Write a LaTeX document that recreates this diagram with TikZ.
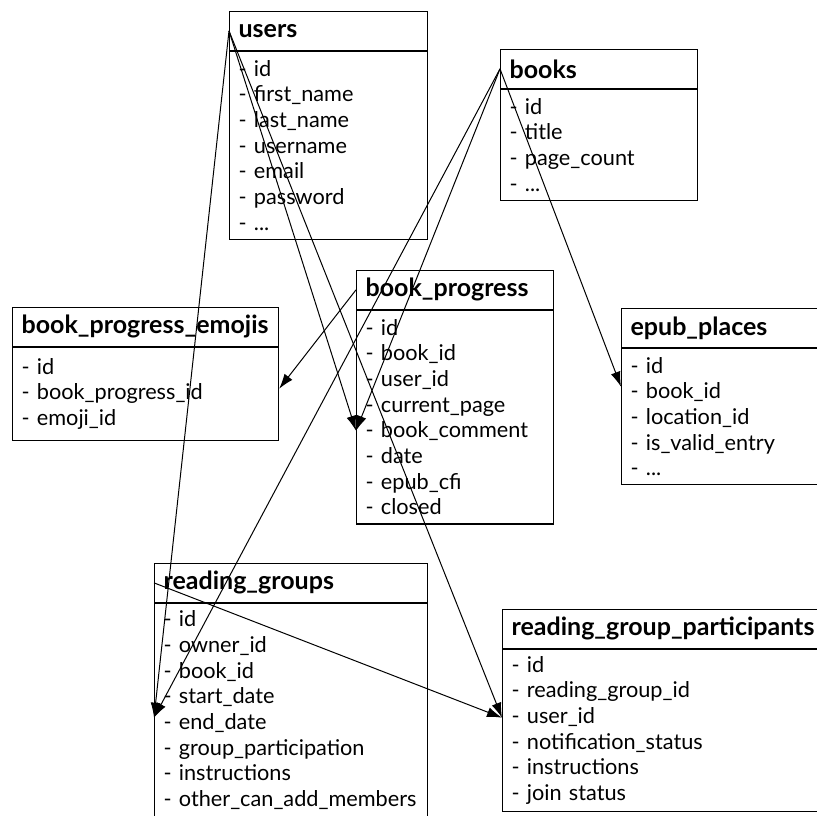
\documentclass[tikz,border=0pt]{standalone}
\usepackage{fontspec}
\setmainfont{Lato}
\usetikzlibrary{arrows.meta,calc}

\tikzset{
  tbltitle/.style={draw, line width=1.2pt, anchor=north west, inner xsep=9pt, inner ysep=0pt,
    minimum height=38.5pt, align=left, font=\bfseries\fontsize{25}{30}\selectfont},
  tblbody/.style={draw, line width=1.2pt, anchor=north west, inner xsep=9pt, inner ysep=0pt,
    minimum height=#1*25.7pt+8pt, align=left, font=\fontsize{21.7}{25.7}\selectfont},
  link/.style={-{Latex[length=15pt,width=10pt]}, line width=1pt},
}

\begin{document}
\begin{tikzpicture}[x=1pt, y=-1pt]
  \useasboundingbox (0,0) rectangle (817,815);
  \clip (0,0) rectangle (817,815);

  % users
  \node[tbltitle, text width=180pt] (users) at (229,11) {users};
  \node[tblbody=7, text width=180pt] (usersbody) at (users.south west)
    {- id\\- first\_name\\- last\_name\\- username\\- email\\- password\\- ...};

  % books
  \node[tbltitle, text width=179pt] (books) at (500,49) {books};
  \node[tblbody=4, text width=179pt] (booksbody) at (books.south west)
    {- id\\- title\\- page\_count\\- ...};

  % book_progress
  \node[tbltitle, text width=179pt] (progress) at (356,270) {book\_progress};
  \node[tblbody=8, text width=179pt] (progressbody) at (progress.south west)
    {- id\\- book\_id\\- user\_id\\- current\_page\\- book\_comment\\- date\\- epub\_cfi\\- closed};

  % book_progress_emojis
  \node[tbltitle, text width=248pt] (emojis) at (12,307) {book\_progress\_emojis};
  \node[tblbody=3.3, text width=248pt] (emojisbody) at (emojis.south west)
    {- id\\- book\_progress\_id\\- emoji\_id};

  % epub_places
  \node[tbltitle, text width=179pt] (epub) at (621,308) {epub\_places};
  \node[tblbody=5, text width=179pt] (epubbody) at (epub.south west)
    {- id\\- book\_id\\- location\_id\\- is\_valid\_entry\\- ...};

  % reading_groups
  \node[tbltitle, text width=255pt] (groups) at (154,563) {reading\_groups};
  \node[tblbody=8, text width=255pt] (groupsbody) at (groups.south west)
    {- id\\- owner\_id\\- book\_id\\- start\_date\\- end\_date\\- group\_participation\\- instructions\\- other\_can\_add\_members};

  % reading_group_participants
  \node[tbltitle, text width=304pt] (participants) at (502,609) {reading\_group\_participants};
  \node[tblbody=6, text width=304pt] (participantsbody) at (participants.south west)
    {- id\\- reading\_group\_id\\- user\_id\\- notification\_status\\- instructions\\- join status};

  % Точки входа стрелок
  \coordinate (progressin) at ($(progressbody.north west)+(0,121)$);
  \coordinate (emojisin) at ($(emojisbody.north east)+(0,42)$);
  \coordinate (epubin) at ($(epubbody.north west)+(0,39)$);
  \coordinate (groupsin) at ($(groupsbody.north west)+(0,115)$);
  \coordinate (participantsin) at ($(participantsbody.north west)+(0,69)$);

  % Связи
  \draw[link] (users.west) -- (groupsin);
  \draw[link] (users.west) -- (progressin);
  \draw[link] (users.west) -- (participantsin);
  \draw[link] (books.west) -- (groupsin);
  \draw[link] (books.west) -- (progressin);
  \draw[link] (books.west) -- (epubin);
  \draw[link] (progress.west) -- (emojisin);
  \draw[link] (groups.west) -- (participantsin);
\end{tikzpicture}
\end{document}
